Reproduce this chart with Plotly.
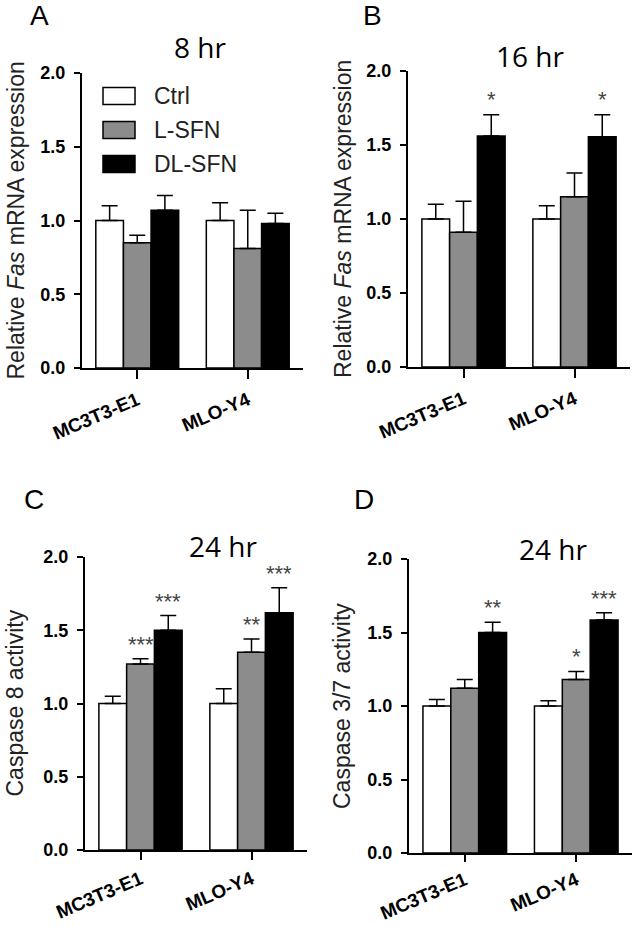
import plotly.graph_objects as go

W, H = 633, 926

groups = ["MC3T3-E1", "MLO-Y4"]
series_names = ["Ctrl", "L-SFN", "DL-SFN"]
series_colors = ["#ffffff", "#8c8c8c", "#000000"]

# Panel A: 8 hr, relative Fas mRNA
A_ctrl = [1.00, 1.00]
A_ctrl_err = [0.10, 0.12]
A_l = [0.85, 0.81]
A_l_err = [0.05, 0.26]
A_dl = [1.07, 0.98]
A_dl_err = [0.10, 0.07]
A_stars = [["", ""], ["", ""], ["", ""]]

# Panel B: 16 hr, relative Fas mRNA
B_ctrl = [1.00, 1.00]
B_ctrl_err = [0.10, 0.09]
B_l = [0.91, 1.15]
B_l_err = [0.21, 0.16]
B_dl = [1.56, 1.555]
B_dl_err = [0.145, 0.15]
B_stars = [["", ""], ["", ""], ["*", "*"]]

# Panel C: 24 hr, caspase 8 activity
C_ctrl = [1.00, 1.00]
C_ctrl_err = [0.05, 0.10]
C_l = [1.27, 1.35]
C_l_err = [0.035, 0.09]
C_dl = [1.50, 1.62]
C_dl_err = [0.10, 0.17]
C_stars = [["", ""], ["***", "**"], ["***", "***"]]

# Panel D: 24 hr, caspase 3/7 activity
D_ctrl = [1.00, 1.00]
D_ctrl_err = [0.045, 0.035]
D_l = [1.12, 1.18]
D_l_err = [0.06, 0.055]
D_dl = [1.50, 1.585]
D_dl_err = [0.07, 0.05]
D_stars = [["", ""], ["", "*"], ["**", "***"]]

y_ticks = [0.0, 0.5, 1.0, 1.5, 2.0]

panels = [
    dict(letter="A", title="8 hr", ytitle="Relative <i>Fas</i> mRNA expression",
         vals=[A_ctrl, A_l, A_dl], errs=[A_ctrl_err, A_l_err, A_dl_err], stars=A_stars,
         box=(82, 303, 73, 368), letter_pos=(39, 15), title_pos=(200, 47), ytitle_x=15,
         xlab=(9, 3)),
    dict(letter="B", title="16 hr", ytitle="Relative <i>Fas</i> mRNA expression",
         vals=[B_ctrl, B_l, B_dl], errs=[B_ctrl_err, B_l_err, B_dl_err], stars=B_stars,
         box=(408, 630, 71, 367), letter_pos=(372, 15), title_pos=(530, 56), ytitle_x=343,
         xlab=(9, 3)),
    dict(letter="C", title="24 hr", ytitle="Caspase 8 activity",
         vals=[C_ctrl, C_l, C_dl], errs=[C_ctrl_err, C_l_err, C_dl_err], stars=C_stars,
         box=(85, 307, 557, 850), letter_pos=(34, 500), title_pos=(223, 546), ytitle_x=14,
         xlab=(8, 1)),
    dict(letter="D", title="24 hr", ytitle="Caspase 3/7 activity",
         vals=[D_ctrl, D_l, D_dl], errs=[D_ctrl_err, D_l_err, D_dl_err], stars=D_stars,
         box=(409, 632, 559, 853), letter_pos=(364, 500), title_pos=(553, 549), ytitle_x=342,
         xlab=(7, 0)),
]


def px_x(p):
    return p / W


def px_y(p):
    return 1 - p / H


fig = go.Figure()
annotations = []
shapes = []
FONT = "Liberation Sans, Arial, sans-serif"
offsets = [-0.25, 0.0, 0.25]

for i, p in enumerate(panels):
    k = "" if i == 0 else str(i + 1)
    xa, ya = "x" + k, "y" + k
    for s in range(3):
        fig.add_trace(go.Bar(
            x=list(range(len(groups))), y=p["vals"][s], name=series_names[s],
            xaxis=xa, yaxis=ya, showlegend=False,
            marker=dict(color=series_colors[s], line=dict(color="black", width=1.5)),
            error_y=dict(type="data", array=p["errs"][s], arrayminus=[0] * len(groups),
                         symmetric=False, color="black", thickness=1.5, width=8),
        ))
        for g in range(len(groups)):
            lab = p["stars"][s][g]
            if lab:
                annotations.append(dict(
                    x=g + offsets[s], y=p["vals"][s][g] + p["errs"][s][g] + 0.14,
                    xref=xa, yref=ya, text=lab, showarrow=False, yanchor="middle",
                    yshift=-6, font=dict(family=FONT, size=22, color="#444444")))
    x0, x1, y0, y1 = p["box"]
    fig.layout["xaxis" + k] = dict(
        domain=[px_x(x0), px_x(x1)], anchor=ya, range=[-0.5, 1.5], automargin=False,
        tickmode="array", tickvals=list(range(len(groups))), ticktext=groups,
        tickangle=-23, ticks="outside", ticklen=p["xlab"][0], tickwidth=2, tickcolor="black",
        ticklabelstandoff=p["xlab"][1],
        showline=True, linewidth=2, linecolor="black", showgrid=False, zeroline=False,
        tickfont=dict(family=FONT, size=19, color="black", weight=700), fixedrange=True)
    fig.layout["yaxis" + k] = dict(
        domain=[px_y(y1), px_y(y0)], anchor=xa, range=[0, 2], automargin=False,
        tickmode="array", tickvals=y_ticks, ticktext=["%.1f" % v for v in y_ticks],
        ticks="outside", ticklen=6, tickwidth=2, tickcolor="black",
        ticklabelstandoff=5,
        showline=True, linewidth=2, linecolor="black", showgrid=False, zeroline=False,
        tickfont=dict(family=FONT, size=18, color="black", weight=700), fixedrange=True)
    # panel letter
    annotations.append(dict(x=px_x(p["letter_pos"][0]), y=px_y(p["letter_pos"][1]),
                            xref="paper", yref="paper", text=p["letter"], showarrow=False,
                            xanchor="center", yanchor="middle",
                            font=dict(family=FONT, size=28, color="black")))
    # panel title
    annotations.append(dict(x=px_x(p["title_pos"][0]), y=px_y(p["title_pos"][1]),
                            xref="paper", yref="paper", text=p["title"], showarrow=False,
                            xanchor="center", yanchor="middle",
                            font=dict(family="Open Sans, sans-serif", size=28, color="black")))
    # y-axis title
    annotations.append(dict(x=px_x(p["ytitle_x"]), y=px_y((y0 + y1) / 2),
                            xref="paper", yref="paper", text=p["ytitle"], showarrow=False,
                            textangle=-90, xanchor="center", yanchor="middle",
                            font=dict(family=FONT, size=23, color="#222222")))

# legend (panel A)
leg_rows = [96, 130, 164]
for s, yc in enumerate(leg_rows):
    shapes.append(dict(type="rect", xref="paper", yref="paper",
                       x0=px_x(103), x1=px_x(135), y0=px_y(yc + 8.5), y1=px_y(yc - 8.5),
                       fillcolor=series_colors[s], line=dict(color="black", width=1.5)))
    annotations.append(dict(x=px_x(152), y=px_y(yc), xref="paper", yref="paper",
                            text=series_names[s], showarrow=False, xanchor="left",
                            yanchor="middle", font=dict(family=FONT, size=23, color="#222222")))

fig.update_layout(
    template="none",
    width=W, height=H, margin=dict(l=0, r=0, t=0, b=0, autoexpand=False),
    paper_bgcolor="white", plot_bgcolor="white",
    barmode="group", bargap=0.25, bargroupgap=0,
    annotations=annotations, shapes=shapes, showlegend=False,
)

fig.write_html("out.html", config={"displayModeBar": False},
               post_script="document.body.style.margin='0px';")
